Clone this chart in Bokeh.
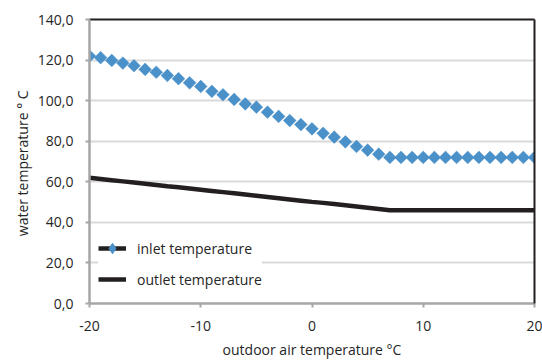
import numpy as np
from bokeh.plotting import figure
from bokeh.models import (Range1d, FixedTicker, LinearAxis, Legend, LegendItem,
                          ColumnDataSource)
from bokeh.embed import file_html
from bokeh.resources import INLINE

# ---- data ----
outdoor_temp = list(range(-20, 21))
inlet_temp = [122.0, 121.2, 119.8, 118.5, 117.2, 115.4, 114.0, 112.4, 110.8, 108.8,
              107.0, 104.6, 102.9, 100.6, 98.4, 96.8, 94.3, 92.2, 90.2, 88.2,
              86.1, 83.9, 82.0, 79.7, 77.4, 75.6, 73.6, 72.0, 72.0, 72.0,
              72.0, 72.0, 72.0, 72.0, 72.0, 72.0, 72.0, 72.0, 72.0, 72.0, 72.0]
outlet_temp = [62.0, 61.4, 60.8, 60.2, 59.6, 59.0, 58.4, 57.8, 57.3, 56.7,
               56.1, 55.5, 54.9, 54.3, 53.7, 53.1, 52.5, 51.9, 51.3, 50.7,
               50.1, 49.6, 49.0, 48.4, 47.8, 47.2, 46.6, 46.0, 46.0, 46.0,
               46.0, 46.0, 46.0, 46.0, 46.0, 46.0, 46.0, 46.0, 46.0, 46.0, 46.0]
x_ticks = [-20, -10, 0, 10, 20]
x_tick_labels = ["-20", "-10", "0", "10", "20"]
y_ticks = [0, 20, 40, 60, 80, 100, 120, 140]
y_tick_labels = ["0,0", "20,0", "40,0", "60,0", "80,0", "100,0", "120,0", "140,0"]
series_names = ["inlet temperature", "outlet temperature"]
x_label = "outdoor air temperature \u00b0C"
y_label = "water temperature  \u00b0 C"

FONT = "Open Sans"
TXT = "#262626"
BLUE = "#4a90c9"
DARK = "#231f20"

p = figure(width=542, height=361, output_backend="svg", toolbar_location=None,
           x_range=Range1d(-20, 20), y_range=Range1d(0, 140),
           min_border_left=89, min_border_right=8, min_border_top=19,
           min_border_bottom=58, outline_line_color=None,
           background_fill_color="white", border_fill_color="white")

# axes styling
for ax in (p.xaxis[0], p.yaxis[0]):
    ax.axis_line_color = "#a6a6a6"
    ax.axis_line_width = 2.5
    ax.major_tick_line_color = "#a6a6a6"
    ax.major_tick_line_width = 2
    ax.major_tick_in = 0
    ax.major_tick_out = 4
    ax.minor_tick_line_color = None
    ax.major_label_text_font = FONT
    ax.major_label_text_font_size = "14px"
    ax.major_label_text_color = TXT
    ax.axis_label_text_font = FONT
    ax.axis_label_text_font_size = "14px"
    ax.axis_label_text_font_style = "normal"
    ax.axis_label_text_color = TXT

p.xaxis[0].ticker = FixedTicker(ticks=x_ticks)
p.xaxis[0].major_label_overrides = {t: l for t, l in zip(x_ticks, x_tick_labels)}
p.xaxis[0].major_label_standoff = 13
p.xaxis[0].axis_label = x_label
p.xaxis[0].axis_label_standoff = 6

p.yaxis[0].ticker = FixedTicker(ticks=y_ticks)
p.yaxis[0].major_label_overrides = {t: l for t, l in zip(y_ticks, y_tick_labels)}
p.yaxis[0].major_label_standoff = 12
p.yaxis[0].axis_label = y_label
p.yaxis[0].axis_label_standoff = 3

# dark top and right frame lines
for loc in ("above", "right"):
    a = LinearAxis(axis_line_color=DARK, axis_line_width=2,
                   major_tick_line_color=None, minor_tick_line_color=None,
                   major_tick_in=0, major_tick_out=0,
                   major_label_text_font_size="0px", major_label_standoff=0,
                   ticker=FixedTicker(ticks=[]))
    p.add_layout(a, loc)

p.xgrid.visible = False
p.ygrid.grid_line_color = "#d9d9d9"
p.ygrid.grid_line_width = 2
p.ygrid.ticker = FixedTicker(ticks=y_ticks)

src = ColumnDataSource(dict(x=outdoor_temp, inlet=inlet_temp, outlet=outlet_temp))

outlet_r = p.line("x", "outlet", source=src, line_color=DARK, line_width=4.5)
inlet_r = p.scatter("x", "inlet", source=src, marker="square", angle=np.pi / 4,
                    size=9, fill_color=BLUE, line_color=BLUE, line_width=0.5)
# legend-only proxies for the inlet series (nothing visible in the plot)
leg_line = p.line(x=[np.nan], y=[np.nan], line_color=DARK, line_width=4.5)
leg_mark = p.scatter(x=[np.nan], y=[np.nan], marker="diamond", size=12,
                     fill_color=BLUE, line_color=BLUE)

legend = Legend(items=[LegendItem(label=series_names[0], renderers=[leg_line, leg_mark]),
                       LegendItem(label=series_names[1], renderers=[outlet_r])],
                location=(9, 11), background_fill_color="white", background_fill_alpha=1,
                border_line_color=None, label_text_font=FONT, label_text_font_size="14px",
                label_text_color=TXT, glyph_width=28, glyph_height=26, label_height=20,
                label_standoff=11, spacing=5, padding=9, margin=0)
p.add_layout(legend, "center")

open("out.html", "w").write(file_html(p, INLINE))
